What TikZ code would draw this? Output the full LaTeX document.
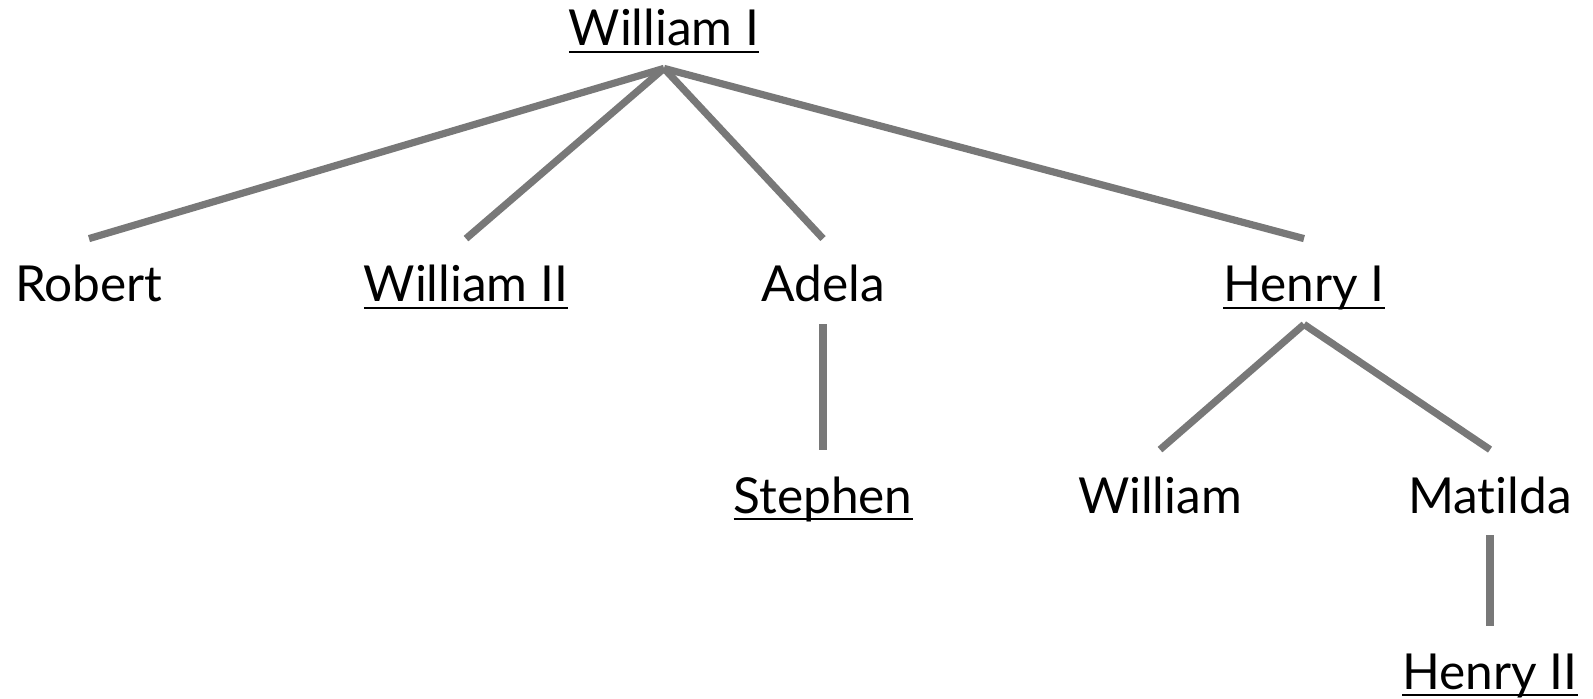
\documentclass[tikz,border=0pt]{standalone}
\usepackage{fontspec}
\setmainfont{Lato}[Ligatures=NoCommon]
\usepackage{tikz}
\definecolor{cLine}{RGB}{120,120,120}
\newlength{\ulwd}
\newcommand{\king}[1]{\settowidth{\ulwd}{#1}\rlap{\rule[-3.7pt]{\ulwd}{1.4pt}}#1}

\begin{document}
\begin{tikzpicture}[x=0.5pt, y=-0.5pt,
  person/.style={font=\fontsize{24.8}{28}\selectfont, inner sep=0pt, anchor=base,
                 text height=31.5pt, text depth=11pt},
  link/.style={draw=cLine, line width=3.6pt}]
\useasboundingbox (0,0) rectangle (1593,699);
\node[person] (w1) at (664,46) {\king{William I}};
\node[person] (rob) at (89,302) {Robert};
\node[person] (w2) at (466,302) {\king{William II}};
\node[person] (adela) at (823,302) {Adela};
\node[person] (h1) at (1304,302) {\king{Henry I}};
\node[person] (steph) at (823,513) {\king{Stephen}};
\node[person] (will) at (1160,513) {William};
\node[person] (mat) at (1490,513) {Matilda};
\node[person] (h2) at (1490,689) {\king{Henry II}};
\draw[link] (w1.south) -- (rob.north);
\draw[link] (w1.south) -- (w2.north);
\draw[link] (w1.south) -- (adela.north);
\draw[link] (w1.south) -- (h1.north);
\draw[link] (adela.south) -- (steph.north);
\draw[link] (h1.south) -- (will.north);
\draw[link] (h1.south) -- (mat.north);
\draw[link] (mat.south) -- (h2.north);
\end{tikzpicture}
\end{document}
